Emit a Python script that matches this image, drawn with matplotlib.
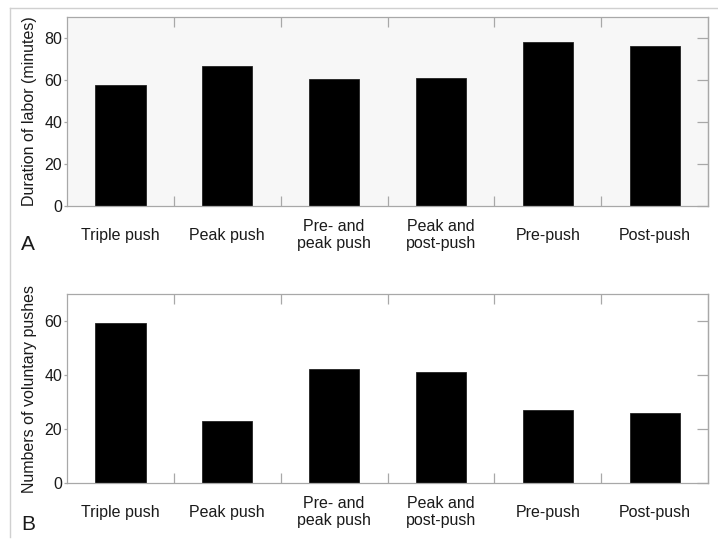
import matplotlib
matplotlib.use("Agg")
import matplotlib.pyplot as plt
from matplotlib.lines import Line2D
from matplotlib.transforms import blended_transform_factory

plt.rcParams['font.family'] = ['Liberation Sans', 'DejaVu Sans']

categories = ["Triple push", "Peak push", "Pre- and\npeak push",
              "Peak and\npost-push", "Pre-push", "Post-push"]
duration_minutes = [57.5, 66.8, 60.5, 60.8, 78.3, 76.0]
voluntary_pushes = [59.1, 23.1, 42.1, 41.2, 26.9, 26.0]

panels = [
    dict(values=duration_minutes, ylabel="Duration of labor (minutes)",
         ylim=(0, 90), yticks=[0, 20, 40, 60, 80], letter="A",
         rect=[0.0933, 0.6178, 0.893, 0.3507], face="#f7f7f7", letter_y=244),
    dict(values=voluntary_pushes, ylabel="Numbers of voluntary pushes",
         ylim=(0, 70), yticks=[0, 20, 40, 60], letter="B",
         rect=[0.0933, 0.1039, 0.893, 0.3506], face="white", letter_y=525),
]

W, H = 718, 539
fig = plt.figure(figsize=(W / 100, H / 100), dpi=100)

spine_col = "#a8a8a8"
text_col = "#1a1a1a"
fs = 11.5

for p in panels:
    ax = fig.add_axes(p["rect"])
    ax.set_facecolor(p["face"])
    x = list(range(len(categories)))
    ax.bar(x, p["values"], width=0.47, color="black", edgecolor="#222222", linewidth=0.6)
    ax.set_xlim(-0.5, len(categories) - 0.5)
    ax.set_ylim(*p["ylim"])

    for s in ax.spines.values():
        s.set_color(spine_col)
        s.set_linewidth(0.9)

    # category labels, no tick marks
    ax.set_xticks(x)
    ax.set_xticklabels(categories, fontsize=fs, color=text_col, linespacing=1.2)
    ax.tick_params(axis="x", which="major", length=0, pad=21)
    for lbl in ax.get_xticklabels():
        lbl.set_va("center")

    # separators between categories, inward on top and bottom
    ax.set_xticks([i + 0.5 for i in range(len(categories) - 1)], minor=True)
    ax.tick_params(axis="x", which="minor", direction="in", length=7,
                   top=True, bottom=True, color=spine_col, width=0.9)

    ax.set_yticks(p["yticks"])
    ax.tick_params(axis="y", which="major", direction="out", length=2,
                   pad=1.5, labelsize=fs, labelcolor=text_col,
                   color=spine_col, width=0.9)

    right = ax.secondary_yaxis("right")
    right.set_yticks(p["yticks"])
    right.tick_params(direction="in", length=8, color=spine_col, width=0.9,
                      labelright=False)
    right.spines["right"].set_color(spine_col)
    right.spines["right"].set_linewidth(0.9)

    ax.set_ylabel(p["ylabel"], fontsize=fs, color=text_col)
    ax.yaxis.set_label_coords(
        37 / W, 0.5,
        transform=blended_transform_factory(fig.transFigure, ax.transAxes))

    fig.text(28 / W, 1 - p["letter_y"] / H, p["letter"], fontsize=15,
             color=text_col, ha="center", va="center")

# light frame around the figure
frame_col = "#d0d0d0"
fig.add_artist(Line2D([10 / W, 1.0], [1 - 8 / H, 1 - 8 / H],
                      transform=fig.transFigure, color=frame_col, linewidth=1))
fig.add_artist(Line2D([10 / W, 10 / W], [1 - 8 / H, 1 - 537 / H],
                      transform=fig.transFigure, color=frame_col, linewidth=1))

fig.savefig("out.png", dpi=100)
